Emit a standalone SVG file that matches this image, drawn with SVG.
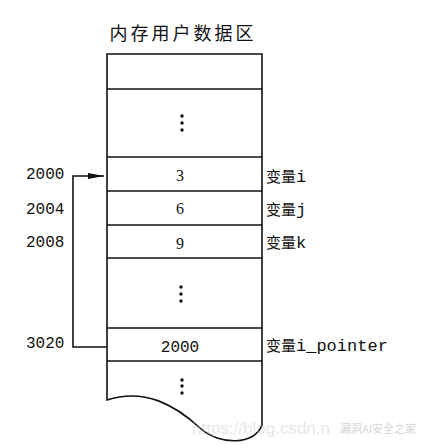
<svg xmlns="http://www.w3.org/2000/svg" width="422" height="448" viewBox="0 0 422 448">
<style>
.ln{stroke:#111;stroke-width:1.6;fill:none}
.mono{font-family:"Liberation Mono","Noto Sans CJK SC",monospace;font-size:16px;fill:#111}
.ser{font-family:"Liberation Serif",serif;font-size:16px;fill:#111;text-anchor:middle}
.cjk{font-family:"Noto Sans CJK SC",sans-serif;fill:#111}
.lab{font-family:"Liberation Mono",monospace;font-size:17px;fill:#111}
.dot{fill:#111}
</style>
<defs>
<marker id="ah" markerWidth="16" markerHeight="8" refX="16" refY="4" orient="auto" markerUnits="userSpaceOnUse">
<path d="M0,1 L16,4 L0,7 Z" fill="#111"/>
</marker>
</defs>
<rect width="422" height="448" fill="#fff"/>
<text class="cjk" x="183" y="40" font-size="18" text-anchor="middle" letter-spacing="3">内存用户数据区</text>

<g id="memory">
<path class="ln" d="M107,54 H262 V425 C255,445 220,446 200,428 C175,405 145,388 107,400 Z"/>
<line class="ln" x1="107" y1="89" x2="262" y2="89"/>
<line class="ln" x1="107" y1="157" x2="262" y2="157"/>
<line class="ln" x1="107" y1="191" x2="262" y2="191"/>
<line class="ln" x1="107" y1="225" x2="262" y2="225"/>
<line class="ln" x1="107" y1="258" x2="262" y2="258"/>
<line class="ln" x1="107" y1="328" x2="262" y2="328"/>
<line class="ln" x1="107" y1="361" x2="262" y2="361"/>
</g>

<g id="dots1"><circle class="dot" cx="182" cy="116" r="1.7"/><circle class="dot" cx="182" cy="123" r="1.7"/><circle class="dot" cx="182" cy="130" r="1.7"/></g>
<g id="dots2"><circle class="dot" cx="181" cy="287" r="1.7"/><circle class="dot" cx="181" cy="294" r="1.7"/><circle class="dot" cx="181" cy="301" r="1.7"/></g>
<g id="dots3"><circle class="dot" cx="182" cy="380" r="1.7"/><circle class="dot" cx="182" cy="386" r="1.7"/><circle class="dot" cx="182" cy="393" r="1.7"/></g>

<g id="cell-i"><text class="ser" x="180" y="181">3</text><text x="266" y="182"><tspan class="cjk" font-size="15">变量</tspan><tspan class="lab">i</tspan></text></g>
<g id="cell-j"><text class="ser" x="180" y="214">6</text><text x="266" y="215"><tspan class="cjk" font-size="15">变量</tspan><tspan class="lab">j</tspan></text></g>
<g id="cell-k"><text class="ser" x="180" y="249">9</text><text x="266" y="248"><tspan class="cjk" font-size="15">变量</tspan><tspan class="lab">k</tspan></text></g>
<g id="cell-ptr"><text class="mono" x="180" y="352" text-anchor="middle">2000</text><text x="266" y="351"><tspan class="cjk" font-size="15">变量</tspan><tspan class="lab">i_pointer</tspan></text></g>

<g id="addresses">
<text class="mono" x="26" y="179">2000</text>
<text class="mono" x="26" y="214">2004</text>
<text class="mono" x="26" y="247">2008</text>
<text class="mono" x="26" y="348">3020</text>
</g>

<g id="connectors">
<path class="ln" d="M107,347 H73 V176 H104" marker-end="url(#ah)"/>
</g>

<g id="watermark" opacity="0.35">
<text x="192" y="434" font-family="Liberation Sans,sans-serif" font-size="17" fill="#bbb">https://blog.csdn.n</text>
<text x="340" y="433" font-family="Noto Sans CJK SC,sans-serif" font-size="11" fill="#888">漏洞AI安全之家</text>
</g>
</svg>
